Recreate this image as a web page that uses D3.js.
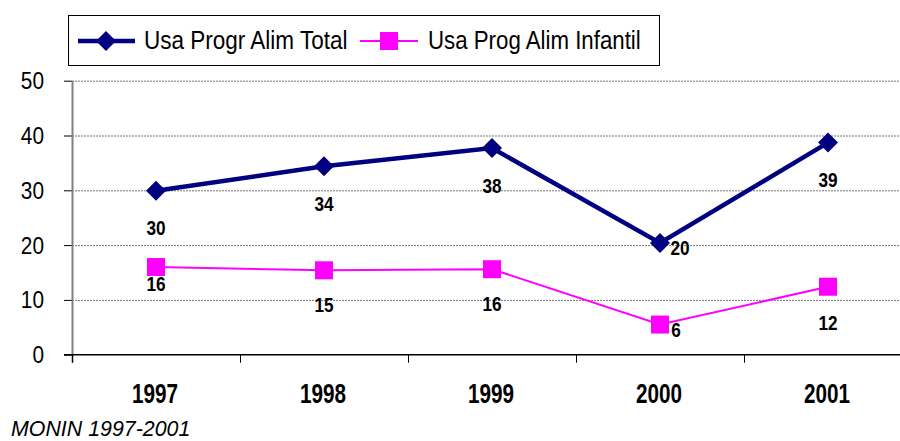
<!DOCTYPE html>
<html>
<head>
<meta charset="utf-8">
<script src="https://cdn.jsdelivr.net/npm/d3@7"></script>
<style>
  body { margin: 0; background: #fff; }
  svg { display: block; font-family: "Liberation Sans", Arial, sans-serif; }
</style>
</head>
<body>
<div id="chart"></div>
<script>
// --------------- Data ---------------
const years = ["1997", "1998", "1999", "2000", "2001"];
const totalValues = [29.9, 34.4, 37.7, 20.4, 38.7];
const totalLabels = ["30", "34", "38", "20", "39"];
const infantilValues = [16.0, 15.4, 15.6, 5.5, 12.4];
const infantilLabels = ["16", "15", "16", "6", "12"];
const yTicks = [0, 10, 20, 30, 40, 50];
const seriesNames = ["Usa Progr Alim Total", "Usa Prog Alim Infantil"];
const sourceNote = "MONIN 1997-2001";

// --------------- Constants ---------------
const WIDTH = 900;
const HEIGHT = 441;
const PLOT = { left: 72, top: 80.7, bottom: 354.7, band: 168 };
const NAVY = "#000080";
const MAGENTA = "#FF00FF";

// the original text is horizontally squeezed, keep the anchor in place
function squeeze(sel, sx) {
  sel.attr("transform", function () {
    const x = +this.getAttribute("x") || 0;
    return `translate(${x * (1 - sx)},0) scale(${sx},1)`;
  });
}

const svg = d3
  .select("#chart")
  .append("svg")
  .attr("width", WIDTH)
  .attr("height", HEIGHT);

const X_SCALE = d3
  .scaleBand()
  .domain(years)
  .range([PLOT.left, PLOT.left + PLOT.band * years.length]);

const Y_SCALE = d3
  .scaleLinear()
  .domain([0, 50])
  .range([PLOT.bottom, PLOT.top]);

const cx = (i) => X_SCALE(years[i]) + X_SCALE.bandwidth() / 2;

// Gridlines
svg
  .append("g")
  .selectAll("line")
  .data(yTicks.filter((t) => t > 0))
  .enter()
  .append("line")
  .attr("x1", PLOT.left)
  .attr("x2", WIDTH)
  .attr("y1", (d) => Y_SCALE(d) + 0.5)
  .attr("y2", (d) => Y_SCALE(d) + 0.5)
  .attr("stroke", "#777")
  .attr("stroke-width", 1)
  .attr("stroke-dasharray", "2,1");

// Y axis
const yAxis = svg
  .append("g")
  .attr("transform", `translate(${PLOT.left},0)`)
  .call(d3.axisLeft(Y_SCALE).tickValues(yTicks).tickSize(8).tickPadding(20));
yAxis.select(".domain").remove();
yAxis.selectAll(".tick line").attr("stroke", "#000");
yAxis
  .selectAll(".tick text")
  .attr("font-size", "24.5px")
  .attr("font-family", "Liberation Sans, Arial")
  .attr("fill", "#000")
  .attr("dy", "0.33em")
  .call(squeeze, 0.85);
svg
  .append("line")
  .attr("x1", PLOT.left + 0.5)
  .attr("x2", PLOT.left + 0.5)
  .attr("y1", PLOT.top)
  .attr("y2", PLOT.bottom + 8)
  .attr("stroke", "#808080")
  .attr("stroke-width", 2);

// X axis
const xAxis = svg
  .append("g")
  .attr("transform", `translate(0,${PLOT.bottom})`);
xAxis
  .append("line")
  .attr("x1", PLOT.left - 8)
  .attr("x2", WIDTH)
  .attr("stroke", "#000")
  .attr("stroke-width", 1.5);
xAxis
  .selectAll("line.tick")
  .data(years)
  .enter()
  .append("line")
  .attr("class", "tick")
  .attr("x1", (d) => X_SCALE(d) + 0.5)
  .attr("x2", (d) => X_SCALE(d) + 0.5)
  .attr("y1", 0)
  .attr("y2", 8)
  .attr("stroke", "#000");
xAxis
  .selectAll("text")
  .data(years)
  .enter()
  .append("text")
  .attr("x", (d) => X_SCALE(d) + X_SCALE.bandwidth() / 2 - 1)
  .attr("y", 48.6)
  .attr("text-anchor", "middle")
  .attr("font-size", "28px")
  .attr("font-weight", "bold")
  .text((d) => d)
  .call(squeeze, 0.74);

// Lines
const lineGen = d3
  .line()
  .x((d, i) => cx(i))
  .y((d) => Y_SCALE(d));

svg
  .append("path")
  .datum(infantilValues)
  .attr("d", lineGen)
  .attr("fill", "none")
  .attr("stroke", MAGENTA)
  .attr("stroke-width", 2);

svg
  .append("path")
  .datum(totalValues)
  .attr("d", lineGen)
  .attr("fill", "none")
  .attr("stroke", NAVY)
  .attr("stroke-width", 4.5);

const diamond = d3.symbol().type(d3.symbolSquare).size(200);

svg
  .append("g")
  .selectAll("path")
  .data(totalValues)
  .enter()
  .append("path")
  .attr("d", diamond)
  .attr("transform", (d, i) => `translate(${cx(i)},${Y_SCALE(d)}) rotate(45)`)
  .attr("fill", NAVY);

svg
  .append("g")
  .selectAll("rect")
  .data(infantilValues)
  .enter()
  .append("rect")
  .attr("x", (d, i) => cx(i) - 9)
  .attr("y", (d) => Y_SCALE(d) - 9)
  .attr("width", 18)
  .attr("height", 18)
  .attr("fill", MAGENTA);

// Data labels (2000 sits beside the point, the others below)
const totalDy = [44.5, 44.5, 44.5, 12, 44.5];
const totalDx = [0, 0, 0, 20, 0];
const infantilDy = [24, 42, 42, 12, 43];
const infantilDx = [0, 0, 0, 16, 0];

svg
  .append("g")
  .selectAll("text")
  .data(totalValues)
  .enter()
  .append("text")
  .attr("x", (d, i) => cx(i) + totalDx[i])
  .attr("y", (d, i) => Y_SCALE(d) + totalDy[i])
  .attr("text-anchor", "middle")
  .attr("font-size", "20px")
  .attr("font-weight", "bold")
  .text((d, i) => totalLabels[i])
  .call(squeeze, 0.86);

svg
  .append("g")
  .selectAll("text")
  .data(infantilValues)
  .enter()
  .append("text")
  .attr("x", (d, i) => cx(i) + infantilDx[i])
  .attr("y", (d, i) => Y_SCALE(d) + infantilDy[i])
  .attr("text-anchor", "middle")
  .attr("font-size", "20px")
  .attr("font-weight", "bold")
  .text((d, i) => infantilLabels[i])
  .call(squeeze, 0.86);

// Legend
const legend = svg.append("g");
legend
  .append("rect")
  .attr("x", 68.5)
  .attr("y", 15.5)
  .attr("width", 591)
  .attr("height", 50)
  .attr("fill", "#fff")
  .attr("stroke", "#000")
  .attr("stroke-width", 1);

legend
  .append("line")
  .attr("x1", 78)
  .attr("x2", 135)
  .attr("y1", 41)
  .attr("y2", 41)
  .attr("stroke", NAVY)
  .attr("stroke-width", 4.5);
legend
  .append("path")
  .attr("d", diamond)
  .attr("transform", "translate(106,41) rotate(45)")
  .attr("fill", NAVY);
legend
  .append("text")
  .attr("x", 144)
  .attr("y", 49.3)
  .attr("font-size", "26.5px")
  .text(seriesNames[0])
  .call(squeeze, 0.85);

legend
  .append("line")
  .attr("x1", 360)
  .attr("x2", 418)
  .attr("y1", 41)
  .attr("y2", 41)
  .attr("stroke", MAGENTA)
  .attr("stroke-width", 2);
legend
  .append("rect")
  .attr("x", 380)
  .attr("y", 32)
  .attr("width", 18)
  .attr("height", 18)
  .attr("fill", MAGENTA);
legend
  .append("text")
  .attr("x", 428)
  .attr("y", 49.3)
  .attr("font-size", "26.5px")
  .text(seriesNames[1])
  .call(squeeze, 0.84);

// Source note
svg
  .append("text")
  .attr("x", 11)
  .attr("y", 436)
  .attr("font-size", "23px")
  .attr("font-style", "italic")
  .text(sourceNote)
  .call(squeeze, 0.93);
</script>
</body>
</html>
